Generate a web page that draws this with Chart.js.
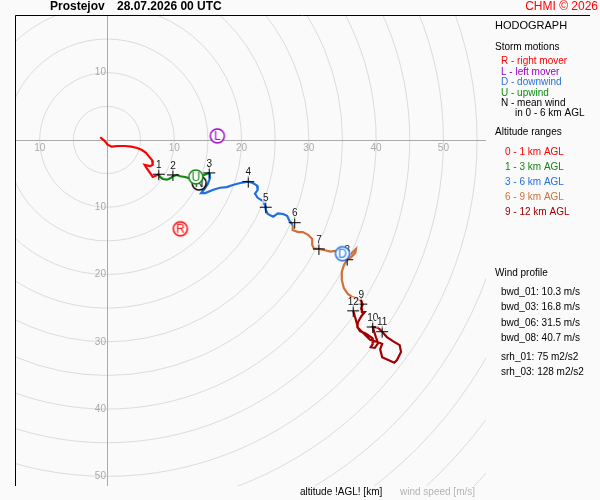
<!DOCTYPE html>
<html>
<head>
<meta charset="utf-8">
<script src="https://cdn.jsdelivr.net/npm/chart.js@4.4.1/dist/chart.umd.min.js"></script>
<style>
  html, body { margin: 0; background: #fafafa; }
  #wrap { width: 600px; height: 500px; }
</style>
</head>
<body>
<div id="wrap"><canvas id="hodo" width="600" height="500"></canvas></div>
<script>
// hodograph wind components in m/s (u to the east, v to the north)
const layer01U = [-1.0, -0.4, 0.1, 0.7, 1.6, 2.7, 3.6, 4.5, 5.2, 5.8, 6.2, 6.7, 6.8, 6.4, 5.6, 5.9, 6.4, 6.8, 7.3, 7.7];
const layer01V = [0.4, -0.1, -0.7, -1.0, -0.9, -0.9, -1.0, -1.2, -1.5, -1.9, -2.4, -3.0, -3.7, -3.9, -3.7, -4.2, -4.9, -5.5, -5.3, -5.1];
const layer13U = [7.7, 7.9, 8.3, 8.9, 9.4, 9.8, 10.4, 10.9, 11.6, 12.3, 13.1, 13.8, 14.4, 15.2];
const layer13V = [-5.1, -5.5, -5.8, -5.9, -5.7, -5.4, -5.2, -5.4, -5.5, -5.7, -5.7, -5.5, -5.2, -4.9];
const layer36U = [15.2, 15.3, 15.0, 14.4, 14.0, 14.6, 15.8, 16.8, 17.8, 18.7, 19.8, 21.0, 21.7, 22.3, 22.4, 22.0, 22.4, 23.2, 23.5, 23.6, 23.9, 24.7, 25.4, 26.2, 26.8, 27.1, 27.6];
const layer36V = [-4.9, -5.7, -6.5, -7.4, -7.9, -7.9, -7.4, -7.1, -7.0, -6.7, -6.4, -6.2, -6.4, -6.8, -7.4, -8.0, -8.6, -9.1, -9.8, -10.4, -11.0, -11.4, -10.9, -11.0, -11.3, -12.0, -12.6];
const layer69U = [27.6, 27.6, 28.4, 29.1, 29.9, 30.5, 30.5, 30.8, 31.5, 32.4, 33.2, 33.9, 34.8, 35.5, 36.1, 36.7, 37.0, 36.9, 36.3, 35.7, 35.2, 34.9, 34.9, 35.2, 35.8, 36.4, 37.2];
const layer69V = [-12.6, -13.4, -13.7, -13.7, -14.1, -14.7, -15.6, -16.2, -16.2, -16.4, -16.6, -16.5, -16.8, -17.2, -17.1, -16.5, -16.2, -16.8, -17.4, -17.8, -18.6, -19.6, -20.8, -22.0, -22.9, -23.3, -23.6];
const layer912U = [37.2, 37.8, 38.0, 37.8, 37.9, 38.3, 37.8, 37.3, 37.2, 37.6, 38.5, 39.4, 39.5, 39.2, 39.8, 40.3, 40.0, 39.5, 40.3, 40.9, 41.6, 42.5, 43.5, 43.7, 43.1, 42.7, 41.8, 40.9, 40.6, 40.9, 40.1, 39.1, 38.2, 37.3, 37.0, 36.6];
const layer912V = [-23.6, -23.9, -24.5, -25.0, -25.6, -25.6, -26.2, -27.1, -27.8, -28.4, -28.8, -29.4, -30.3, -30.8, -30.9, -30.2, -29.4, -27.8, -27.9, -28.5, -29.3, -29.9, -30.5, -31.5, -32.7, -33.1, -32.7, -32.3, -31.1, -30.3, -30.0, -29.7, -28.8, -27.9, -26.8, -25.4];

// altitude marks (km AGL)
const markKm = ['1', '2', '3', '4', '5', '6', '7', '8', '9', '10', '11', '12'];
const markU = [7.7, 9.8, 15.2, 21.0, 23.6, 27.9, 31.5, 35.7, 37.8, 39.5, 40.9, 36.6];
const markV = [-5.1, -5.2, -4.9, -6.2, -10.0, -12.3, -16.2, -17.8, -24.4, -27.8, -28.5, -25.4];

// storm motions
const stormTags = ['R', 'L', 'D', 'N', 'U'];
const stormU = [10.9, 16.4, 35.0, 13.7, 13.2];
const stormV = [-13.2, 0.6, -16.9, -6.4, -5.5];
const stormColors = ['#ff0000', '#a000c8', '#1f6fe0', '#000000', '#118811'];

// speed rings and axis ticks (m/s)
const ringSpeeds = [5, 10, 15, 20, 25, 30, 35, 40, 45, 50, 55, 60, 65, 70, 75, 80, 85, 90];
const uTicks = [-10, 10, 20, 30, 40, 50];
const vTicks = [10, -10, -20, -30, -40, -50];

const layerNames = ['0 - 1 km AGL', '1 - 3 km AGL', '3 - 6 km AGL', '6 - 9 km AGL', '9 - 12 km AGL'];
const layerColors = ['#ff0000', '#118811', '#1f6fe0', '#d2703a', '#a00000'];
const stormLegend = ['R - right mover', 'L - left mover', 'D - downwind', 'U - upwind', 'N - mean wind'];
const stormLegendColors = ['#ff0000', '#9a00c8', '#2a6fdb', '#118811', '#000000'];
const windProfile = ['bwd_01: 10.3 m/s', 'bwd_03: 16.8 m/s', 'bwd_06: 31.5 m/s', 'bwd_08: 40.7 m/s'];
const helicity = ['srh_01: 75 m2/s2', 'srh_03: 128 m2/s2'];

const FONT = '"Liberation Sans", Arial, sans-serif';

function pts(us, vs) {
  return us.map((u, i) => ({ x: u, y: vs[i] }));
}

function badge(letter, color) {
  const c = document.createElement('canvas');
  c.width = 18;
  c.height = 18;
  const g = c.getContext('2d');
  g.beginPath();
  g.arc(9, 9, 7, 0, Math.PI * 2);
  g.fillStyle = '#ffffff';
  g.fill();
  g.lineWidth = 1.5;
  g.strokeStyle = color;
  g.stroke();
  g.fillStyle = color;
  g.font = '12px ' + FONT;
  g.textAlign = 'center';
  g.textBaseline = 'middle';
  g.fillText(letter, 9, 9.5);
  return c;
}

const layers = [
  [layer01U, layer01V],
  [layer13U, layer13V],
  [layer36U, layer36V],
  [layer69U, layer69V],
  [layer912U, layer912V]
];

const datasets = layers.map((l, i) => ({
  label: layerNames[i],
  data: pts(l[0], l[1]),
  showLine: true,
  borderColor: layerColors[i],
  borderWidth: 2.2,
  pointRadius: 0,
  order: 3
}));

datasets.push({
  label: 'marks',
  data: pts(markU, markV),
  pointStyle: 'cross',
  pointRadius: 6,
  borderColor: '#000',
  borderWidth: 1,
  order: 2
});
const MARK_INDEX = datasets.length - 1;

datasets.push({
  label: 'storm',
  data: pts(stormU, stormV),
  pointStyle: stormTags.map((t, i) => badge(t, stormColors[i])),
  pointRadius: 8,
  order: 1
});

const hodoBack = {
  id: 'hodoBack',
  beforeDraw(chart) {
    const ctx = chart.ctx;
    ctx.save();
    ctx.fillStyle = '#fafafa';
    ctx.fillRect(0, 0, chart.width, chart.height);
    ctx.restore();
  },
  beforeDatasetsDraw(chart) {
    const { ctx, chartArea: a, scales: { x, y } } = chart;
    const x0 = x.getPixelForValue(0);
    const y0 = y.getPixelForValue(0);
    ctx.save();
    ctx.beginPath();
    ctx.rect(a.left, a.top, a.right - a.left, a.bottom - a.top);
    ctx.clip();
    ctx.strokeStyle = '#dcdcdc';
    ctx.lineWidth = 1;
    ringSpeeds.forEach((s) => {
      const r = x.getPixelForValue(s) - x0;
      ctx.beginPath();
      ctx.arc(x0, y0, r, 0, Math.PI * 2);
      ctx.stroke();
    });
    ctx.strokeStyle = '#aaaaaa';
    ctx.beginPath();
    ctx.moveTo(a.left, Math.round(y0) + 0.5);
    ctx.lineTo(a.right, Math.round(y0) + 0.5);
    ctx.moveTo(Math.round(x0) + 0.5, a.top);
    ctx.lineTo(Math.round(x0) + 0.5, a.bottom);
    ctx.stroke();
    ctx.fillStyle = '#aaaaaa';
    ctx.font = '10px ' + FONT;
    ctx.textAlign = 'center';
    ctx.textBaseline = 'middle';
    uTicks.forEach((t) => ctx.fillText(String(Math.abs(t)), x.getPixelForValue(t), y0 + 8));
    ctx.textAlign = 'right';
    vTicks.forEach((t) => ctx.fillText(String(Math.abs(t)), x0 - 1, y.getPixelForValue(t)));
    ctx.restore();
  },
  afterDatasetDraw(chart, args) {
    if (args.index !== MARK_INDEX) return;
    const ctx = chart.ctx;
    const meta = chart.getDatasetMeta(MARK_INDEX);
    ctx.save();
    ctx.font = '10px ' + FONT;
    ctx.textAlign = 'center';
    ctx.textBaseline = 'middle';
    meta.data.forEach((p, i) => {
      const w = ctx.measureText(markKm[i]).width;
      ctx.fillStyle = 'rgba(255,255,255,0.6)';
      ctx.fillRect(p.x - w / 2 - 1, p.y - 14, w + 2, 10);
      ctx.fillStyle = '#111';
      ctx.fillText(markKm[i], p.x, p.y - 9);
    });
    ctx.restore();
  },
  afterDraw(chart) {
    const { ctx, chartArea: a } = chart;
    ctx.save();
    // frame
    ctx.strokeStyle = '#000';
    ctx.lineWidth = 1;
    ctx.beginPath();
    ctx.moveTo(a.left + 0.5, a.bottom);
    ctx.lineTo(a.left + 0.5, a.top + 0.5);
    ctx.lineTo(590, a.top + 0.5);
    ctx.stroke();

    ctx.textBaseline = 'middle';
    ctx.textAlign = 'left';
    ctx.fillStyle = '#000';
    ctx.font = 'bold 12px ' + FONT;
    ctx.fillText('Prostejov', 50, 7);
    ctx.fillText('28.07.2026 00 UTC', 117, 7);
    ctx.textAlign = 'right';
    ctx.fillStyle = '#ff0000';
    ctx.font = '12px ' + FONT;
    ctx.fillText('CHMI \u00a9 2026', 598, 7);

    ctx.textAlign = 'left';
    ctx.fillStyle = '#000';
    ctx.font = '11px ' + FONT;
    ctx.fillText('HODOGRAPH', 495, 26);
    ctx.font = '10px ' + FONT;
    ctx.fillText('Storm motions', 495, 47);
    stormLegend.forEach((t, i) => {
      ctx.fillStyle = stormLegendColors[i];
      ctx.fillText(t, 501, 61.5 + i * 10.5);
    });
    ctx.fillStyle = '#000';
    ctx.fillText('in 0 - 6 km AGL', 515, 113);
    ctx.fillText('Altitude ranges', 495, 132);
    layerNames.forEach((t, i) => {
      ctx.fillStyle = layerColors[i];
      ctx.fillText(t, 505, 152 + i * 15);
    });
    ctx.fillStyle = '#000';
    ctx.fillText('Wind profile', 495, 273);
    windProfile.forEach((t, i) => ctx.fillText(t, 501, 292 + i * 15.5));
    helicity.forEach((t, i) => ctx.fillText(t, 501, 357 + i * 15));

    ctx.fillText('altitude !AGL! [km]', 300, 492);
    ctx.fillStyle = '#b4b4b4';
    ctx.fillText('wind speed [m/s]', 400, 492);
    ctx.restore();
  }
};

new Chart(document.getElementById('hodo').getContext('2d'), {
  type: 'scatter',
  data: { datasets },
  options: {
    responsive: false,
    animation: false,
    events: [],
    layout: { padding: { left: 15, top: 15, right: 114, bottom: 14 } },
    plugins: { legend: { display: false }, tooltip: { enabled: false } },
    scales: {
      x: { type: 'linear', min: -13.67, max: 56.33, display: false },
      y: { type: 'linear', min: -51.43, max: 18.57, display: false }
    }
  },
  plugins: [hodoBack]
});
</script>
</body>
</html>
